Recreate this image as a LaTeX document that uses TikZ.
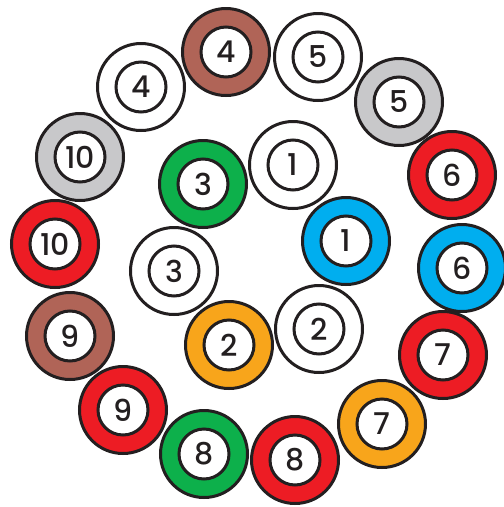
\documentclass[tikz,border=0pt]{standalone}
\usepackage{fontspec}
\setmainfont{Poppins}[UprightFont={* Medium}]
\usepackage{tikz}
\definecolor{wirered}{HTML}{ED1C24}
\definecolor{wirebrown}{HTML}{B06457}
\definecolor{wiregray}{HTML}{C8C8CA}
\definecolor{wiregreen}{HTML}{0DB04B}
\definecolor{wireblue}{HTML}{00AEEF}
\definecolor{wireorange}{HTML}{F8A51B}
\definecolor{wireink}{HTML}{231F20}
\tikzset{
  sleeve/.style={circle,draw=wireink,line width=3pt,fill=#1,minimum size=87pt,inner sep=0pt},
  core/.style={circle,draw=wireink,line width=3pt,fill=white,minimum size=50pt,inner sep=0pt,
    text=wireink,font=\fontsize{30}{30}\selectfont},
}
\begin{document}
\begin{tikzpicture}[x=1pt,y=-1pt]
\useasboundingbox (0,0) rectangle (504,507);

% inner ring
\node[sleeve=white] (s1w) at (293,165) {};
\node[core] (c1w) at (s1w) {1};
\node[sleeve=wireblue] (s1c) at (346,241) {};
\node[core] (c1c) at (s1c) {1};
\node[sleeve=white] (s2w) at (319,329) {};
\node[core] (c2w) at (s2w) {2};
\node[sleeve=wireorange] (s2c) at (229,345) {};
\node[core] (c2c) at (s2c) {2};
\node[sleeve=white] (s3w) at (174,271) {};
\node[core] (c3w) at (s3w) {3};
\node[sleeve=wiregreen] (s3c) at (203,184) {};
\node[core] (c3c) at (s3c) {3};

% outer ring
\node[sleeve=wirebrown] (s4c) at (226,52) {};
\node[core] (c4c) at (s4c) {4};
\node[sleeve=white] (s4w) at (141,87) {};
\node[core] (c4w) at (s4w) {4};
\node[sleeve=white] (s5w) at (318,57) {};
\node[core] (c5w) at (s5w) {5};
\node[sleeve=wiregray] (s5c) at (399,102) {};
\node[core] (c5c) at (s5c) {5};
\node[sleeve=wirered] (s6r) at (452,175) {};
\node[core] (c6r) at (s6r) {6};
\node[sleeve=wireblue] (s6c) at (462,268) {};
\node[core] (c6c) at (s6c) {6};
\node[sleeve=wirered] (s7r) at (443,355) {};
\node[core] (c7r) at (s7r) {7};
\node[sleeve=wireorange] (s7c) at (382,424) {};
\node[core] (c7c) at (s7c) {7};
\node[sleeve=wirered] (s8r) at (295,460) {};
\node[core] (c8r) at (s8r) {8};
\node[sleeve=wiregreen] (s8c) at (204,454) {};
\node[core] (c8c) at (s8c) {8};
\node[sleeve=wirered] (s9r) at (123,410) {};
\node[core] (c9r) at (s9r) {9};
\node[sleeve=wirebrown] (s9c) at (70,336) {};
\node[core] (c9c) at (s9c) {9};
\node[sleeve=wirered] (s10r) at (55,244) {};
\node[core] (c10r) at (s10r) {10};
\node[sleeve=wiregray] (s10c) at (80,157) {};
\node[core] (c10c) at (s10c) {10};

\end{tikzpicture}
\end{document}
